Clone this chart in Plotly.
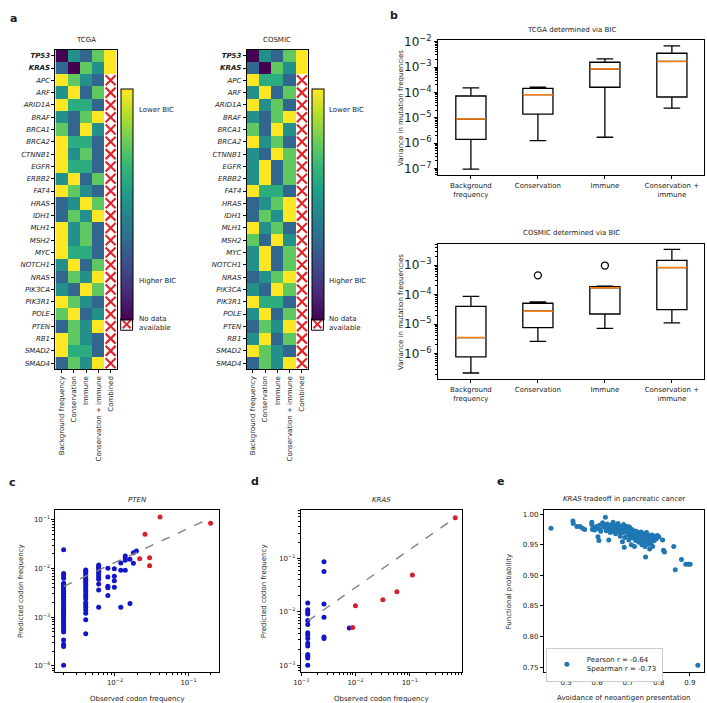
import math
import plotly.graph_objects as go

W, H = 707, 703
FONT = "DejaVu Sans"
INK = "#1a1a1a"

# ---------------- data ----------------
genes = ["TP53", "KRAS", "APC", "ARF", "ARID1A", "BRAF", "BRCA1", "BRCA2", "CTNNB1", "EGFR",
         "ERBB2", "FAT4", "HRAS", "IDH1", "MLH1", "MSH2", "MYC", "NOTCH1", "NRAS", "PIK3CA",
         "PIK3R1", "POLE", "PTEN", "RB1", "SMAD2", "SMAD4"]
bold_genes = ["TP53", "KRAS"]
models = ["Background frequency", "Conservation", "Immune", "Conservation + immune", "Combined"]

# relative BIC score (1 = lowest BIC, 0 = highest BIC); None = no data available
tcga_scores = [
    [0.00, 0.50, 0.33, 0.75, 1.0],
    [0.33, 0.00, 0.75, 0.50, 1.0],
    [1.00, 0.75, 0.50, 0.33, None],
    [0.50, 1.00, 0.33, 0.75, None],
    [1.00, 0.62, 0.62, 0.33, None],
    [0.50, 0.33, 0.75, 1.00, None],
    [0.75, 0.33, 1.00, 0.50, None],
    [1.00, 0.62, 0.62, 0.33, None],
    [1.00, 0.50, 0.75, 0.33, None],
    [1.00, 0.62, 0.62, 0.33, None],
    [0.50, 1.00, 0.33, 0.75, None],
    [1.00, 0.75, 0.50, 0.33, None],
    [0.33, 0.50, 1.00, 0.75, None],
    [0.33, 0.75, 0.50, 1.00, None],
    [1.00, 0.50, 0.75, 0.33, None],
    [1.00, 0.50, 0.75, 0.33, None],
    [1.00, 0.62, 0.62, 0.33, None],
    [0.50, 1.00, 0.33, 0.75, None],
    [0.33, 0.75, 0.50, 1.00, None],
    [0.50, 0.33, 1.00, 0.75, None],
    [1.00, 0.75, 0.50, 0.33, None],
    [0.75, 1.00, 0.33, 0.50, None],
    [0.33, 0.75, 0.50, 1.00, None],
    [1.00, 0.75, 0.50, 0.33, None],
    [1.00, 0.62, 0.62, 0.33, None],
    [0.33, 0.75, 0.50, 1.00, None],
]
cosmic_scores = [
    [0.00, 0.50, 0.33, 0.75, 1.0],
    [0.33, 0.00, 0.75, 0.50, 1.0],
    [1.00, 0.62, 0.62, 0.33, None],
    [0.50, 1.00, 0.33, 0.75, None],
    [1.00, 0.50, 0.75, 0.33, None],
    [0.50, 0.33, 0.75, 1.00, None],
    [0.75, 0.33, 1.00, 0.50, None],
    [1.00, 0.50, 0.75, 0.33, None],
    [0.50, 0.33, 1.00, 0.75, None],
    [0.50, 1.00, 0.33, 0.75, None],
    [0.50, 1.00, 0.33, 0.75, None],
    [1.00, 0.62, 0.62, 0.33, None],
    [0.33, 0.50, 0.75, 1.00, None],
    [0.33, 0.75, 0.50, 1.00, None],
    [1.00, 0.50, 0.75, 0.33, None],
    [0.75, 0.33, 1.00, 0.50, None],
    [0.50, 1.00, 0.33, 0.75, None],
    [0.50, 1.00, 0.33, 0.75, None],
    [0.33, 0.50, 0.75, 1.00, None],
    [0.50, 0.33, 1.00, 0.75, None],
    [1.00, 0.62, 0.62, 0.33, None],
    [0.50, 1.00, 0.33, 0.75, None],
    [0.33, 0.75, 0.50, 1.00, None],
    [0.50, 1.00, 0.33, 0.75, None],
    [1.00, 0.75, 0.50, 0.33, None],
    [0.33, 0.75, 0.50, 1.00, None],
]

# panel b: box statistics of variance in mutation frequencies
box_labels = ["Background<br>frequency", "Conservation", "Immune", "Conservation +<br>immune"]
tcga_lower = [9.4e-8, 1.26e-6, 1.7e-6, 2.4e-5]
tcga_q1 = [1.4e-6, 1.4e-5, 1.6e-4, 6.6e-5]
tcga_median = [8.9e-6, 8.1e-5, 8.3e-4, 1.66e-3]
tcga_q3 = [7.2e-5, 1.44e-4, 1.55e-3, 3.5e-3]
tcga_upper = [1.5e-4, 1.62e-4, 2.1e-3, 6.8e-3]

cosmic_lower = [2.2e-7, 2.6e-6, 7.2e-6, 1.1e-5]
cosmic_q1 = [7.8e-7, 7.6e-6, 2.2e-5, 3.1e-5]
cosmic_median = [3.5e-6, 2.75e-5, 1.7e-4, 8.3e-4]
cosmic_q3 = [4.0e-5, 5.1e-5, 1.85e-4, 1.45e-3]
cosmic_upper = [8.7e-5, 5.7e-5, 1.95e-4, 3.4e-3]
cosmic_outlier_pos = [1, 2]
cosmic_outlier_val = [4.5e-4, 9.7e-4]

# panel c: PTEN observed vs predicted codon frequency
pten_blue_obs = ([0.002] * 37 + [0.004] * 21 + [0.006] * 12 + [0.008] * 5 + [0.0098] * 4 +
                 [0.012] * 3 + [0.0138] * 4 + [0.016] * 2 + [0.0178] * 2 + [0.0196])
pten_blue_pred = [
    0.0242, 0.0079, 0.0071, 0.0063, 0.0050, 0.0046, 0.0043, 0.0040, 0.0037, 0.0034,
    0.0031, 0.0029, 0.0027, 0.0025, 0.0023, 0.0021, 0.0019, 0.0017, 0.0016, 0.0015,
    0.0014, 0.0013, 0.0012, 0.0011, 0.0010, 0.00093, 0.00085, 0.00078, 0.00072, 0.00066,
    0.00060, 0.00055, 0.00050, 0.00034, 0.00028, 0.00025, 0.000104,
    0.0093, 0.0087, 0.0079, 0.0071, 0.0063, 0.0057, 0.0052, 0.0047, 0.0042, 0.0038,
    0.0034, 0.0030, 0.0027, 0.0024, 0.0020, 0.0018, 0.0016, 0.0014, 0.0012, 0.00089, 0.00046,
    0.0118, 0.0110, 0.0102, 0.0095, 0.0088, 0.0082, 0.0074, 0.0067, 0.0060, 0.0048, 0.0036, 0.0016,
    0.0101, 0.0067, 0.0043, 0.0040, 0.0028,
    0.0099, 0.0069, 0.0056, 0.0041,
    0.0130, 0.0092, 0.0016,
    0.0180, 0.0160, 0.0147, 0.0092,
    0.0154, 0.0019,
    0.0210, 0.0128,
    0.0227,
]
pten_red_obs = [0.0217, 0.0256, 0.0296, 0.0296, 0.041, 0.20]
pten_red_pred = [0.0159, 0.050, 0.0166, 0.0113, 0.113, 0.085]
pten_fit = {"slope": 0.702, "intercept": -0.475}   # log10-log10 fit

# panel d: KRAS observed vs predicted codon frequency
kras_blue_obs = [0.00132] * 15 + [0.00263] * 6 + [0.0077]
kras_blue_pred = [0.0147, 0.0110, 0.0101, 0.0092, 0.0069, 0.0058, 0.0041, 0.0037, 0.0032,
                  0.0026, 0.0023, 0.0016, 0.0015, 0.00138, 0.0010,
                  0.087, 0.057, 0.0141, 0.0080, 0.0034, 0.0032,
                  0.0050]
kras_red_obs = [0.0089, 0.010, 0.032, 0.058, 0.112, 0.69]
kras_red_pred = [0.0051, 0.0131, 0.017, 0.024, 0.049, 0.58]
kras_fit = {"slope": 0.711, "intercept": -0.122}

# panel e: KRAS tradeoff in pancreatic cancer
avoidance = [
    0.451, 0.522, 0.523, 0.535, 0.545, 0.553, 0.560,
    0.583, 0.583, 0.585, 0.587, 0.592, 0.598, 0.600, 0.603, 0.606, 0.608, 0.610, 0.612,
    0.618, 0.622, 0.627, 0.628, 0.630, 0.633, 0.635, 0.638, 0.640, 0.643, 0.645, 0.648, 0.650,
    0.652, 0.655, 0.658, 0.660, 0.662, 0.665, 0.668, 0.670, 0.672, 0.675, 0.677, 0.680, 0.682,
    0.684, 0.686, 0.688, 0.690, 0.692, 0.695, 0.697, 0.699,
    0.701, 0.703, 0.705, 0.707, 0.709, 0.711, 0.713, 0.715, 0.717, 0.719, 0.721, 0.723, 0.725,
    0.727, 0.730, 0.733, 0.735, 0.738, 0.740, 0.742, 0.745, 0.748,
    0.750, 0.752, 0.755, 0.757, 0.758, 0.760, 0.763, 0.765, 0.768, 0.770, 0.772, 0.775, 0.778,
    0.780, 0.783, 0.785, 0.788, 0.792, 0.795, 0.800, 0.812, 0.815, 0.818,
    0.848, 0.853, 0.873, 0.887, 0.896, 0.901, 0.926,
]
functional = [
    0.977, 0.989, 0.985, 0.980, 0.980, 0.977, 0.975,
    0.987, 0.983, 0.975, 0.978, 0.974, 0.980, 0.977, 0.963, 0.957, 0.982, 0.975, 0.972,
    0.986, 0.980, 0.995, 0.977, 0.973, 0.984, 0.978, 0.958, 0.975, 0.970, 0.980, 0.983, 0.976,
    0.987, 0.972, 0.979, 0.968, 0.982, 0.975, 0.985, 0.978, 0.971, 0.964, 0.980, 0.975, 0.955,
    0.970, 0.983, 0.946, 0.962, 0.977, 0.972, 0.980, 0.966,
    0.975, 0.958, 0.979, 0.970, 0.963, 0.950, 0.975, 0.968, 0.961, 0.973, 0.947, 0.967, 0.957,
    0.972, 0.963, 0.969, 0.954, 0.965, 0.958, 0.971, 0.950, 0.962,
    0.968, 0.955, 0.947, 0.930, 0.963, 0.970, 0.958, 0.951, 0.965, 0.943, 0.960, 0.953, 0.966,
    0.947, 0.962, 0.957, 0.964, 0.960, 0.965, 0.963, 0.958, 0.941, 0.938,
    0.947, 0.909, 0.926, 0.918, 0.918, 0.918, 0.753,
]
pearson_r, spearman_r = -0.64, -0.73


# ---------------- helpers ----------------
def fx(p):
    return p / W


def fy(p):
    return 1 - p / H


def sup(e):
    return "10<sup>\u2212%d</sup>" % e


def minor_log(lo, hi):
    return [k * 10.0 ** e for e in range(lo, hi) for k in range(2, 10)]


RED = "#e0262b"
fig = go.Figure()
annotations = []
shapes = []


def ann(text, x, y, size=7, xanchor="center", yanchor="middle", angle=0, **kw):
    annotations.append(dict(text=text, x=fx(x), y=fy(y), xref="paper", yref="paper",
                            showarrow=False, xanchor=xanchor, yanchor=yanchor, textangle=angle,
                            font=dict(size=size, family=FONT, color=INK), **kw))


frame = dict(showline=True, mirror=True, linecolor="black", linewidth=1, showgrid=False,
             zeroline=False, ticks="outside", ticklen=3, tickwidth=1, tickcolor="black",
             tickfont=dict(size=7, family=FONT, color=INK), fixedrange=True)

layout_axes = {}

# ---------------- panel a: heatmaps ----------------
heat_specs = [
    (tcga_scores, "TCGA", 1, 48, 110, 114),
    (cosmic_scores, "COSMIC", 2, 241.5, 303.5, 307),
]
gene_text = ["<b><i>%s</i></b>" % g if g in bold_genes else "<i>%s</i>" % g for g in genes]
for scores, title, k, x0, x1, cbx in heat_specs:
    xa, ya = "x%d" % k, "y%d" % k
    fig.add_trace(go.Heatmap(
        z=scores, x=models, y=genes, colorscale="Viridis", zmin=0, zmax=1,
        xaxis=xa, yaxis=ya, hoverongaps=False,
        colorbar=dict(x=fx(cbx), xanchor="left", y=fy(83), yanchor="top", len=231,
                      lenmode="pixels", thickness=12, thicknessmode="pixels", xpad=0, ypad=0,
                      outlinewidth=1, outlinecolor="black", showticklabels=False, ticks="")))
    nd = [g for g, row in zip(genes, scores) if row[-1] is None]
    fig.add_trace(go.Scatter(
        x=[models[-1]] * len(nd), y=nd, mode="markers", xaxis=xa, yaxis=ya, showlegend=False,
        hoverinfo="skip",
        marker=dict(symbol="x-thin", size=10, line=dict(width=2.2, color=RED))))
    layout_axes["xaxis%d" % k] = dict(frame, domain=[fx(x0), fx(x1)], anchor=ya, type="category",
                                      categoryorder="array", categoryarray=models,
                                      range=[-0.5, len(models) - 0.5], tickangle=-90)
    layout_axes["yaxis%d" % k] = dict(frame, domain=[fy(366), fy(43)], anchor=xa, type="category",
                                      categoryorder="array", categoryarray=genes,
                                      range=[len(genes) - 0.5, -0.5],
                                      tickvals=genes, ticktext=gene_text)
    ann(title, (x0 + x1) / 2, 33)
    tx = cbx + 16
    ann("Lower BIC", tx, 104, xanchor="left")
    ann("Higher BIC", tx, 277, xanchor="left")
    ann("No data<br>available", tx, 320, xanchor="left", align="left")
    # no-data legend box
    bx0, bx1, by0, by1 = cbx, cbx + 12, 314.5, 326.5
    shapes.append(dict(type="rect", xref="paper", yref="paper", x0=fx(bx0), x1=fx(bx1),
                       y0=fy(by1), y1=fy(by0), line=dict(color="black", width=1),
                       fillcolor="white"))
    for a, b in [((bx0 + 2, by0 + 2), (bx1 - 2, by1 - 2)), ((bx0 + 2, by1 - 2), (bx1 - 2, by0 + 2))]:
        shapes.append(dict(type="line", xref="paper", yref="paper", x0=fx(a[0]), y0=fy(a[1]),
                           x1=fx(b[0]), y1=fy(b[1]), line=dict(color=RED, width=2)))

# ---------------- panel b: box plots ----------------
BOXW = 0.45
box_specs = [
    (3, 33, 170, [-7.27, -1.92], range(-7, -1), "TCGA determined via BIC", 23,
     tcga_lower, tcga_q1, tcga_median, tcga_q3, tcga_upper, [], []),
    (4, 239, 376, [-6.87, -2.27], range(-6, -2), "COSMIC determined via BIC", 228,
     cosmic_lower, cosmic_q1, cosmic_median, cosmic_q3, cosmic_upper,
     cosmic_outlier_pos, cosmic_outlier_val),
]
positions = list(range(len(box_labels)))
for k, top, bot, yr, decs, title, ty, lo, q1, med, q3, up, opos, oval in box_specs:
    xa, ya = "x%d" % k, "y%d" % k
    fig.add_trace(go.Box(x=positions, q1=q1, median=med, q3=q3, lowerfence=lo, upperfence=up,
                         xaxis=xa, yaxis=ya, width=BOXW, whiskerwidth=0.55, boxpoints=False,
                         fillcolor="rgba(0,0,0,0)", line=dict(color="black", width=1.3),
                         showlegend=False, hoverinfo="skip"))
    for p, m in zip(positions, med):
        fig.add_trace(go.Scatter(x=[p - BOXW / 2, p + BOXW / 2], y=[m, m], mode="lines",
                                 xaxis=xa, yaxis=ya, showlegend=False, hoverinfo="skip",
                                 line=dict(color="#ff7f0e", width=1.5)))
    if opos:
        fig.add_trace(go.Scatter(x=opos, y=oval, mode="markers", xaxis=xa, yaxis=ya,
                                 showlegend=False, hoverinfo="skip",
                                 marker=dict(symbol="circle-open", size=7, color="black",
                                             line=dict(color="black", width=1.3))))
    layout_axes["xaxis%d" % k] = dict(frame, domain=[fx(435), fx(704)], anchor=ya,
                                      range=[-0.49, 3.48], tickvals=positions,
                                      ticktext=box_labels)
    layout_axes["yaxis%d" % k] = dict(frame, domain=[fy(bot), fy(top)], anchor=xa, type="log",
                                      range=yr, tickvals=[10.0 ** e for e in decs],
                                      ticktext=[sup(-e) for e in decs],
                                      tickfont=dict(size=12, family=FONT, color=INK),
                                      minor=dict(ticks="outside", ticklen=2, tickcolor="black",
                                                 tickmode="array",
                                                 tickvals=minor_log(decs[0] - 1, decs[-1] + 1)))
    ann(title, 570, ty)
    ann("Variance in mutation frequencies", 398, (top + bot) / 2, angle=-90)

# ---------------- panels c, d: observed vs predicted ----------------
sc_specs = [
    (5, 48, 213, [-2.81, -0.59], [-4.13, -0.80], [-2, -1], [-4, -3, -2, -1], "PTEN",
     pten_blue_obs, pten_blue_pred, pten_red_obs, pten_red_pred, pten_fit, 13),
    (6, 296, 459, [-3.01, -0.04], [-3.13, -0.09], [-3, -2, -1], [-3, -2, -1], "KRAS",
     kras_blue_obs, kras_blue_pred, kras_red_obs, kras_red_pred, kras_fit, 259),
]
for (k, x0, x1, xr, yr, xdec, ydec, gene, bo, bp, ro, rp, fit, ylab_x) in sc_specs:
    xa, ya = "x%d" % k, "y%d" % k
    allx = bo + ro
    xs = [min(allx), max(allx)]
    ys = [10 ** (fit["intercept"] + fit["slope"] * math.log10(v)) for v in xs]
    fig.add_trace(go.Scatter(x=bo, y=bp, mode="markers", xaxis=xa, yaxis=ya, showlegend=False,
                             marker=dict(color="#1414c8", size=5), hoverinfo="skip"))
    fig.add_trace(go.Scatter(x=ro, y=rp, mode="markers", xaxis=xa, yaxis=ya, showlegend=False,
                             marker=dict(color="#d2222d", size=5), hoverinfo="skip"))
    fig.add_trace(go.Scatter(x=xs, y=ys, mode="lines", xaxis=xa, yaxis=ya, showlegend=False,
                             line=dict(color="#808080", width=1.4, dash="dash"),
                             hoverinfo="skip"))
    layout_axes["xaxis%d" % k] = dict(frame, domain=[fx(x0), fx(x1)], anchor=ya, type="log",
                                      range=xr, tickvals=[10.0 ** e for e in xdec],
                                      ticktext=[sup(-e) for e in xdec],
                                      minor=dict(ticks="outside", ticklen=2, tickcolor="black",
                                                 tickmode="array", tickvals=minor_log(-4, 0)))
    layout_axes["yaxis%d" % k] = dict(frame, domain=[fy(672), fy(508)], anchor=xa, type="log",
                                      range=yr, tickvals=[10.0 ** e for e in ydec],
                                      ticktext=[sup(-e) for e in ydec],
                                      minor=dict(ticks="outside", ticklen=2, tickcolor="black",
                                                 tickmode="array", tickvals=minor_log(-5, 0)))
    ann("<i>%s</i>" % gene, (x0 + x1) / 2, 498)
    ann("Observed codon frequency", (x0 + x1) / 2, 699)
    ann("Predicted codon frequency", ylab_x, 590, angle=-90)

# ---------------- panel e ----------------
fig.add_trace(go.Scatter(x=avoidance, y=functional, mode="markers", xaxis="x7", yaxis="y7",
                         name="Pearson r = %.2f<br>Spearman r = %.2f" % (pearson_r, spearman_r),
                         marker=dict(color="#1f77b4", size=5), hoverinfo="skip"))
layout_axes["xaxis7"] = dict(frame, domain=[fx(542), fx(704)], anchor="y7", range=[0.428, 0.946],
                             tickvals=[0.5, 0.6, 0.7, 0.8, 0.9])
layout_axes["yaxis7"] = dict(frame, domain=[fy(672), fy(508)], anchor="x7",
                             range=[0.7414, 1.007], tickvals=[0.75, 0.80, 0.85, 0.90, 0.95, 1.00],
                             tickformat=".2f")
ann("<i>KRAS</i> tradeoff in pancreatic cancer", 623, 497)
ann("Avoidance of neoantigen presentation", 623, 698)
ann("Functional probability", 507, 590, angle=-90)

# panel letters
for letter, x, y in [("a", 6, 12), ("b", 390, 9), ("c", 5, 480), ("d", 250, 479), ("e", 498, 479)]:
    ann("<b>%s</b>" % letter, x, y, size=11)

fig.update_layout(
    width=W, height=H, margin=dict(l=0, r=0, t=0, b=0), autosize=False,
    paper_bgcolor="white", plot_bgcolor="white",
    font=dict(family=FONT, size=7, color=INK),
    showlegend=True,
    legend=dict(x=fx(544), y=fy(647), xanchor="left", yanchor="top", bgcolor="white",
                bordercolor="#cccccc", borderwidth=1, font=dict(size=7, family=FONT, color=INK),
                itemwidth=30, tracegroupgap=0),
    annotations=annotations, shapes=shapes,
    **layout_axes,
)

fig.write_html("out.html", include_plotlyjs=True, config={"displayModeBar": False},
               post_script="document.body.style.margin='0';")
